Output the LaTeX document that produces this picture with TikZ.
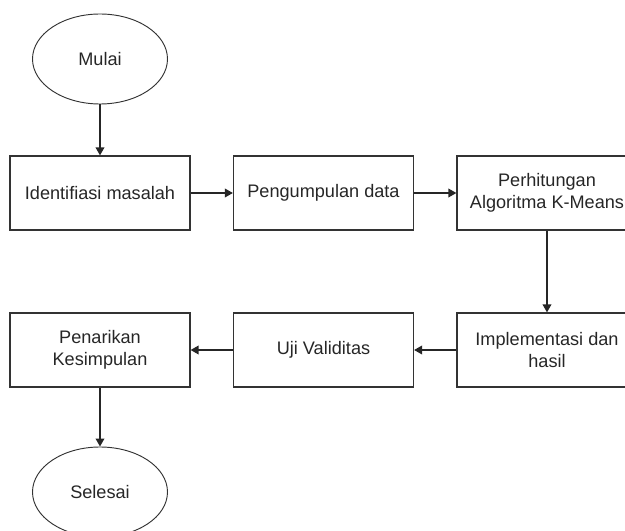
\documentclass[tikz,border=0pt]{standalone}
\usepackage{fontspec}
\setmainfont{Liberation Sans}
\usetikzlibrary{shapes.geometric,arrows.meta}
\begin{document}
\begin{tikzpicture}[x=0.75pt,y=-0.75pt,
  every node/.style={font=\fontsize{13.6pt}{16.8pt}\selectfont, text=black!85, align=center},
  procbox/.style={draw=black!80, line width=0.9pt, rectangle, minimum width=180*0.75pt, minimum height=74*0.75pt, inner sep=0pt},
  termbox/.style={draw=black!80, line width=0.7pt, ellipse, minimum width=135*0.75pt, minimum height=90*0.75pt, inner sep=0pt},
  flow/.style={draw=black!85, line width=1.1pt, -{Triangle[length=6pt,width=6.5pt]}}]
\useasboundingbox (0,0) rectangle (625,531);
\clip (0,0) rectangle (625,531);
\node[termbox] (mulai) at (100,59) {Mulai};
\node[procbox] (idm) at (100,193) {Identifiasi masalah};
\node[procbox] (peng) at (323.5,193) {Pengumpulan data};
\node[procbox] (perh) at (547,193) {Perhitungan\\Algoritma K-Means};
\node[procbox] (impl) at (547,350) {Implementasi dan\\hasil};
\node[procbox] (uji) at (323.5,350) {Uji Validitas};
\node[procbox] (pen) at (100,350) {Penarikan\\Kesimpulan};
\node[termbox] (sel) at (100,492) {Selesai};
\draw[flow] (mulai) -- (idm);
\draw[flow] (idm) -- (peng);
\draw[flow] (peng) -- (perh);
\draw[flow] (perh) -- (impl);
\draw[flow] (impl) -- (uji);
\draw[flow] (uji) -- (pen);
\draw[flow] (pen) -- (sel);
\end{tikzpicture}
\end{document}
